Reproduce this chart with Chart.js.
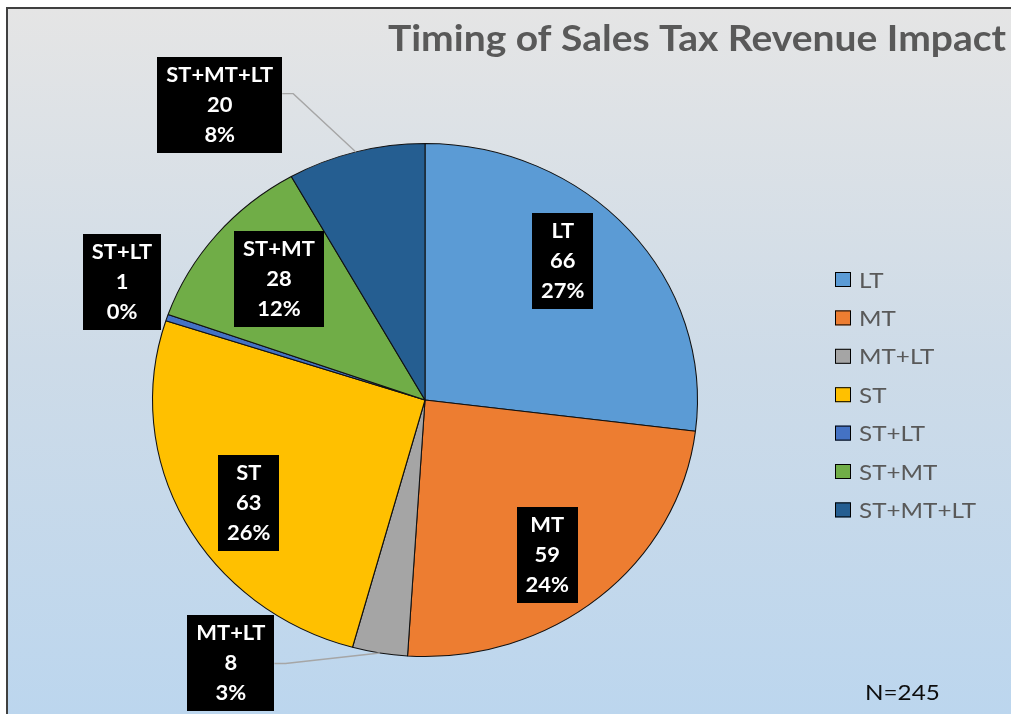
<!DOCTYPE html>
<html><head><meta charset="utf-8">
<script src="https://cdn.jsdelivr.net/npm/chart.js@4.4.1/dist/chart.umd.min.js"></script>
<style>html,body{margin:0;padding:0;background:#fff;overflow:hidden}canvas{display:block}</style>
</head><body>
<canvas id="c" width="1011" height="714"></canvas>
<script>
// ---- data ----
const categories = ['LT', 'MT', 'MT+LT', 'ST', 'ST+LT', 'ST+MT', 'ST+MT+LT'];
const counts = [66, 59, 8, 63, 1, 28, 20];
const percentLabels = ['27%', '24%', '3%', '26%', '0%', '12%', '8%'];
const sliceColors = ['#5B9BD5', '#ED7D31', '#A5A5A5', '#FFC000', '#4472C4', '#70AD47', '#255E91'];
const titleText = 'Timing of Sales Tax Revenue Impact';
const noteText = 'N=245';

// ---- label placement relative to each slice (angle shift in degrees, fraction of radius) ----
const labelPlacement = [
  {dAng: -5.4, frac: 0.740},
  {dAng: 3.1, frac: 0.753},
  {dAng: 25.2, frac: 1.250, leader: true, leaderDy: 0},
  {dAng: -3.5, frac: 0.761},
  {dAng: 3.7, frac: 1.203},
  {dAng: 1.3, frac: 0.714},
  {dAng: -18.5, frac: 1.376, leader: true, leaderDy: -11}
];

const SX = 1.0623; // horizontal stretch of the reference picture
const FONT = 'Lato, "Open Sans", sans-serif';

function stretchedText(ctx, text, x, y, k) {
  ctx.save();
  ctx.translate(x, y);
  ctx.scale(k, 1);
  ctx.fillText(text, 0, 0);
  ctx.restore();
}

const backgroundPlugin = {
  id: 'bg',
  beforeDraw(chart) {
    const ctx = chart.ctx, W = chart.width, H = chart.height;
    ctx.save();
    ctx.fillStyle = '#ffffff';
    ctx.fillRect(0, 0, W, H);
    const g = ctx.createLinearGradient(0, 8, 0, H);
    g.addColorStop(0, '#e5e5e5');
    g.addColorStop(0.5, '#cddbe8');
    g.addColorStop(1, '#bcd6ee');
    ctx.fillStyle = g;
    ctx.fillRect(7, 8, W - 7, H - 8);
    ctx.strokeStyle = '#404040';
    ctx.lineWidth = 2;
    ctx.beginPath();
    ctx.moveTo(7, H);
    ctx.lineTo(7, 8);
    ctx.lineTo(W, 8);
    ctx.stroke();
    // title
    ctx.fillStyle = '#595959';
    ctx.font = 'bold 37px ' + FONT;
    ctx.textBaseline = 'alphabetic';
    ctx.textAlign = 'left';
    const tw = ctx.measureText(titleText).width;
    stretchedText(ctx, titleText, 388, 51, 618 / tw);
    ctx.restore();
  }
};

const stretchPlugin = {
  id: 'stretch',
  beforeDatasetsDraw(chart) {
    const m = chart.getDatasetMeta(0).data[0];
    const ctx = chart.ctx;
    ctx.save();
    ctx.translate(m.x, 0);
    ctx.scale(SX, 1);
    ctx.translate(-m.x, 0);
  },
  afterDatasetsDraw(chart) {
    chart.ctx.restore();
  }
};

const labelsPlugin = {
  id: 'labels',
  afterDraw(chart) {
    const ctx = chart.ctx;
    const meta = chart.getDatasetMeta(0);
    ctx.save();
    ctx.font = 'bold 20px ' + FONT;
    const kL = 107 / ctx.measureText('ST+MT+LT').width;
    const boxes = meta.data.map((arc, i) => {
      const p = arc.getProps(['x', 'y', 'startAngle', 'endAngle', 'outerRadius'], true);
      const midRaw = (p.startAngle + p.endAngle) / 2;
      const pl = labelPlacement[i];
      const a = midRaw + pl.dAng * Math.PI / 180;
      const r = p.outerRadius * pl.frac;
      const bx = p.x + Math.cos(a) * r * SX;
      const by = p.y + Math.sin(a) * r;
      const lines = [categories[i], String(counts[i]), percentLabels[i]];
      const w = Math.max(...lines.map(t => ctx.measureText(t).width)) * kL + 18;
      return {bx, by, w, lines, p, midRaw, pl};
    });
    // leader lines
    ctx.strokeStyle = '#a6a6a6';
    ctx.lineWidth = 1.4;
    boxes.forEach(b => {
      if (!b.pl.leader) return;
      const ex = b.p.x + Math.cos(b.midRaw) * b.p.outerRadius * SX;
      const ey = b.p.y + Math.sin(b.midRaw) * b.p.outerRadius;
      const ax = b.bx + b.w / 2, ay = b.by + b.pl.leaderDy;
      ctx.beginPath();
      ctx.moveTo(ex, ey);
      ctx.lineTo(ax + 11, ay);
      ctx.lineTo(ax, ay);
      ctx.stroke();
    });
    // boxes
    boxes.forEach(b => {
      ctx.fillStyle = '#000000';
      ctx.fillRect(Math.round(b.bx - b.w / 2), Math.round(b.by - 48), Math.round(b.w), 96);
      ctx.fillStyle = '#ffffff';
      ctx.textBaseline = 'alphabetic';
      b.lines.forEach((t, j) => {
        const tw = ctx.measureText(t).width * kL;
        stretchedText(ctx, t, b.bx - tw / 2, b.by + (j - 1) * 30 + 7, kL);
      });
    });
    // legend
    ctx.font = '22px ' + FONT;
    const kG = 117 / ctx.measureText('ST+MT+LT').width;
    categories.forEach((c, i) => {
      const cy = 279.5 + i * 38.4;
      ctx.fillStyle = sliceColors[i];
      ctx.fillRect(835, cy - 7.5, 16, 15);
      ctx.strokeStyle = '#000';
      ctx.lineWidth = 1;
      ctx.strokeRect(835.5, cy - 7, 15, 14);
      ctx.fillStyle = '#595959';
      stretchedText(ctx, c, 859, cy + 8, kG);
    });
    // note
    ctx.fillStyle = '#0d0d0d';
    stretchedText(ctx, noteText, 865, 700, kG);
    ctx.restore();
  }
};

new Chart(document.getElementById('c'), {
  type: 'pie',
  data: {
    labels: categories,
    datasets: [{
      data: counts,
      backgroundColor: sliceColors,
      borderColor: '#111111',
      borderWidth: 1,
      clip: false
    }]
  },
  options: {
    responsive: false,
    animation: false,
    devicePixelRatio: 1,
    layout: {padding: {left: 168, right: 329, top: 143, bottom: 57}},
    plugins: {
      legend: {display: false},
      tooltip: {enabled: false},
      title: {display: false}
    }
  },
  plugins: [backgroundPlugin, stretchPlugin, labelsPlugin]
});
</script>
</body></html>
